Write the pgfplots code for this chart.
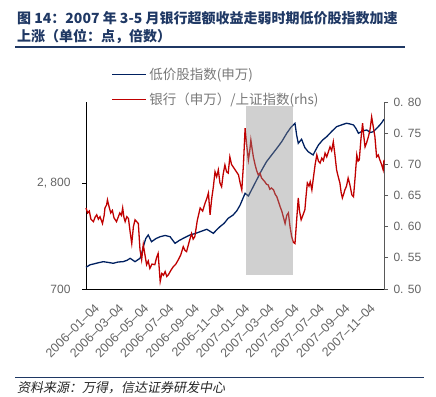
\documentclass[border=0pt]{standalone}
\usepackage{fontspec}
\setmainfont{Liberation Sans}
\newfontfamily\cjk{Noto Sans CJK SC}
\newfontfamily\cjkit[FakeSlant=0.2]{Noto Sans CJK SC}
\usepackage{pgfplots}
\pgfplotsset{compat=1.18}
\definecolor{navy}{RGB}{0,32,96}
\definecolor{bankred}{RGB}{192,0,0}
\definecolor{titleblue}{RGB}{31,56,100}
\definecolor{boxgray}{RGB}{137,137,137}
\definecolor{ticktext}{RGB}{100,100,100}
\definecolor{legtext}{RGB}{120,120,120}

\pgfplotstableread{
d v
0 1130
10 1180
18 1195
30 1220
42 1241
55 1225
66 1209
78 1235
90 1241
100 1270
107 1308
119 1241
131 1308
135 1400
139 1538
145 1700
151 1770
159 1637
170 1700
180 1736
192 1760
204 1736
216 1605
226 1660
236 1704
252 1770
265 1800
277 1835
293 1883
309 1803
318 1880
325 1934
335 2000
345 2101
357 2166
366 2250
374 2364
386 2596
394 2542
404 2700
414 2859
426 3050
438 3222
450 3350
463 3487
475 3620
487 3784
497 3900
507 3983
511 3750
515 3586
523 3666
531 3500
539 3420
551 3355
557 3450
564 3553
574 3650
584 3717
596 3820
608 3915
620 3950
632 3983
640 3970
649 3949
655 3880
661 3784
671 3830
681 3850
690 3800
697 3816
705 3880
713 3949
718 4000
723 4062
}\lowprice

\pgfplotstableread{
d v
0 0.630
4 0.622
8 0.625
12 0.612
18 0.608
22 0.615
26 0.619
30 0.612
34 0.616
40 0.605
44 0.618
46 0.630
50 0.635
52 0.643
56 0.632
60 0.622
64 0.626
68 0.614
74 0.608
78 0.615
82 0.622
86 0.618
89 0.630
92 0.615
95 0.608
99 0.616
103 0.613
107 0.592
111 0.573
115 0.600
119 0.611
123 0.608
127 0.605
131 0.563
135 0.547
139 0.571
143 0.555
147 0.539
151 0.545
155 0.533
160 0.540
167 0.539
171 0.550
175 0.557
178 0.530
180 0.512
184 0.525
188 0.522
192 0.528
196 0.520
200 0.523
206 0.530
212 0.536
218 0.540
224 0.547
230 0.555
236 0.568
240 0.562
244 0.560
250 0.575
256 0.589
260 0.580
264 0.584
270 0.610
277 0.630
283 0.625
289 0.638
293 0.645
297 0.654
301 0.619
305 0.645
309 0.664
313 0.688
317 0.680
321 0.691
325 0.670
329 0.664
333 0.685
337 0.699
341 0.688
345 0.686
349 0.712
353 0.700
357 0.696
363 0.690
370 0.683
374 0.670
378 0.659
382 0.700
386 0.758
390 0.730
394 0.707
397 0.720
400 0.739
403 0.725
406 0.712
410 0.700
414 0.690
418 0.683
422 0.686
426 0.678
430 0.675
434 0.672
438 0.668
442 0.667
446 0.660
450 0.662
455 0.659
459 0.652
463 0.648
467 0.640
471 0.632
475 0.625
479 0.615
483 0.605
487 0.618
491 0.622
495 0.600
499 0.584
503 0.575
507 0.573
511 0.610
515 0.646
518 0.625
522 0.611
526 0.618
531 0.627
534 0.650
537 0.670
541 0.665
544 0.672
548 0.659
552 0.680
556 0.700
560 0.715
564 0.705
568 0.702
572 0.710
576 0.706
580 0.718
584 0.712
588 0.720
592 0.728
596 0.722
600 0.736
604 0.715
608 0.691
612 0.680
616 0.670
619 0.655
622 0.646
625 0.652
628 0.659
632 0.665
636 0.678
640 0.668
645 0.651
649 0.648
653 0.680
657 0.715
660 0.705
663 0.707
667 0.740
671 0.766
674 0.745
677 0.728
681 0.735
685 0.744
689 0.755
693 0.776
697 0.760
701 0.744
705 0.712
709 0.715
713 0.707
717 0.700
721 0.691
723 0.707
}\bank

\pgfplotstableread{
d v
388 0.5225
502 0.5225
502 0.7936
388 0.7936
}\shade

\begin{document}
\begin{tikzpicture}
\useasboundingbox (0,0) rectangle (436pt,396pt);
% title
\node[anchor=base west, inner sep=0pt, text=titleblue] at (17pt,372pt)
  {\cjk\bfseries\fontsize{14}{16}\selectfont 图 14：2007 年 3-5 月银行超额收益走弱时期低价股指数加速};
\node[anchor=base west, inner sep=0pt, text=titleblue] at (17pt,354pt)
  {\cjk\bfseries\fontsize{14}{16}\selectfont 上涨（单位：点，倍数）};
\draw[titleblue, line width=1.5pt] (15pt,349pt) -- (405pt,349pt);
% source
\draw[titleblue, line width=1.5pt] (15pt,18.3pt) -- (424pt,18.3pt);
\node[anchor=base west, inner sep=0pt, text=black!85] at (17pt,4pt)
  {\cjkit\fontsize{13}{14}\selectfont 资料来源：万得，信达证券研发中心};

\begin{axis}[
  at={(86pt,107pt)}, anchor=south west,
  scale only axis, width=298pt, height=187pt,
  xmin=0, xmax=723, ymin=700, ymax=4404,
  axis x line*=bottom, axis y line*=left,
  axis line style={-, black, line width=0.8pt},
  xtick={0,59,120,181,243,304,365,424,485,546,608,669},
  xticklabels={2006–01–04,2006–03–04,2006–05–04,2006–07–04,2006–09–04,2006–11–04,2007–01–04,2007–03–04,2007–05–04,2007–07–04,2007–09–04,2007–11–04},
  xtick style={draw=none},
  xticklabel style={rotate=45, anchor=north east, font=\fontsize{12.5}{14}\selectfont, text=ticktext, yshift=-9pt, xshift=2pt},
  ytick={700,2800},
  yticklabels={700,{2, 800}},
  tick align=outside, major tick length=4pt,
  ytick style={black, line width=0.8pt},
  yticklabel style={font=\fontsize{12}{14}\selectfont, text=ticktext, xshift=-8pt},
  clip=false,
]
\addplot[navy, line width=1.3pt] table[x=d, y=v] {\lowprice};
\end{axis}

\begin{axis}[
  at={(86pt,107pt)}, anchor=south west,
  scale only axis, width=298pt, height=187pt,
  xmin=0, xmax=723, ymin=0.5, ymax=0.8,
  axis x line=none, axis y line*=right,
  axis line style={-, black!65, line width=1pt},
  ytick={0.5,0.55,0.6,0.65,0.7,0.75,0.8},
  yticklabels={{0. 50},{0. 55},{0. 60},{0. 65},{0. 70},{0. 75},{0. 80}},
  tick align=outside, major tick length=4pt,
  ytick style={black!65, line width=0.8pt},
  yticklabel style={font=\fontsize{12}{14}\selectfont, text=ticktext, xshift=2pt},
  legend style={draw=none, fill=none, at={(axis description cs:0.085,1.195)}, anchor=north west,
    font=\cjk\fontsize{13.5}{15}\selectfont, text=legtext, row sep=7pt, inner sep=0pt,
    nodes={inner sep=2.5pt}},
  legend cell align=left,
  legend image code/.code={\draw[#1] (0pt,0pt) -- (34pt,0pt);},
  clip=false,
]
\addlegendimage{navy, line width=1.3pt}
\addlegendentry{低价股指数(申万)}
\addplot[bankred, line width=1.3pt] table[x=d, y=v] {\bank};
\addlegendentry{银行（申万）/上证指数(rhs)}
\addplot[fill=boxgray, fill opacity=0.4, draw=none, forget plot] table[x=d, y=v] {\shade} -- cycle;
\end{axis}
\end{tikzpicture}
\end{document}
